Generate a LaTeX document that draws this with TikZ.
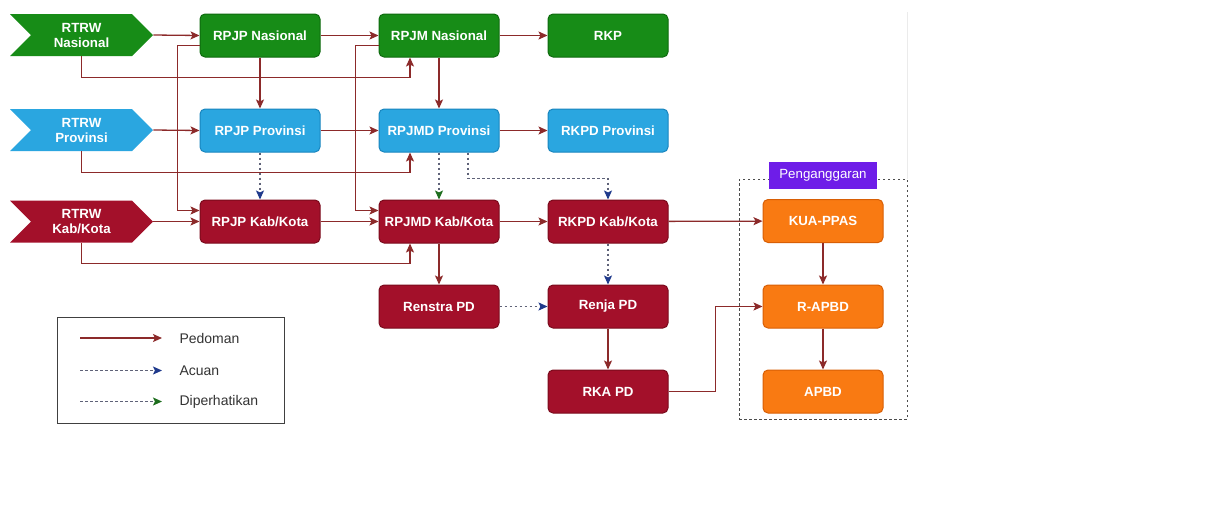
\documentclass[tikz,border=0pt]{standalone}
\usepackage{fontspec}
\setmainfont{Liberation Sans}
\usetikzlibrary{arrows.meta,shapes.symbols,calc}
\definecolor{cgreen}{HTML}{178C17}
\definecolor{cgreenD}{HTML}{0E6A0E}
\definecolor{cblue}{HTML}{2AA6E0}
\definecolor{cblueD}{HTML}{1885BE}
\definecolor{cred}{HTML}{A3102A}
\definecolor{credD}{HTML}{7A0A1C}
\definecolor{corange}{HTML}{F97A12}
\definecolor{corangeD}{HTML}{D85F05}
\definecolor{cviolet}{HTML}{6E1DE8}
\definecolor{cline}{HTML}{8C2A2A}
\definecolor{cdash}{HTML}{5E6278}
\definecolor{ctipblue}{HTML}{1F3A8C}
\definecolor{ctipgreen}{HTML}{1E6E1E}
\tikzset{
  box/.style={rectangle, rounded corners=5pt, minimum width=120pt, minimum height=43pt,
    inner sep=0pt, line width=1pt, text=white, font=\fontsize{13.3}{15}\selectfont\bfseries},
  gbox/.style={box, fill=cgreen, draw=cgreenD},
  bbox/.style={box, fill=cblue, draw=cblueD},
  rbox/.style={box, fill=cred, draw=credD},
  obox/.style={box, fill=corange, draw=corangeD},
  sig/.style={signal, signal to=east, signal from=west, signal pointer angle=90,
    minimum width=143pt, minimum height=42pt, inner sep=0pt, text=white, align=center,
    font=\fontsize{13.3}{15}\selectfont\bfseries},
  ped/.style={draw=cline, line width=1.3pt, -{Stealth[length=9pt,width=8pt,inset=2pt]}},
  acu/.style={draw=cdash, line width=1.1pt, dash pattern=on 2.5pt off 2.5pt,
    -{Stealth[length=9pt,width=8pt,inset=2pt,color=ctipblue]}},
  dip/.style={draw=cdash, line width=1.1pt, dash pattern=on 2.5pt off 2.5pt,
    -{Stealth[length=9pt,width=8pt,inset=2pt,color=ctipgreen]}},
  legtext/.style={anchor=west, font=\fontsize{14}{16}\selectfont, text=black!80},
}
\begin{document}
\begin{tikzpicture}[x=1pt,y=-1pt]
\useasboundingbox[fill=white] (0,0) rectangle (1208,523);
% faint edge
\draw[black!8, line width=0.8pt] (907,12) -- (907,179);

% group box
\node[draw=black!70, dash pattern=on 2.5pt off 2.5pt, line width=1pt, minimum width=168pt, minimum height=240pt, inner sep=0pt] (grp) at (823,299) {};
\node[fill=cviolet, minimum width=108pt, minimum height=27pt, inner sep=0pt, text=white, font=\fontsize{13.3}{15}\selectfont] (pang) at (823,175) {Penganggaran};

% row 1
\node[sig, fill=cgreen] (rtrwn) at (81.5,35) {RTRW\\Nasional};
\node[gbox] (rpjpn) at (260,35.5) {RPJP Nasional};
\node[gbox] (rpjmn) at (439,35.5) {RPJM Nasional};
\node[gbox] (rkp) at (608,35.5) {RKP};
% row 2
\node[sig, fill=cblue] (rtrwp) at (81.5,130) {RTRW\\Provinsi};
\node[bbox] (rpjpp) at (260,130.5) {RPJP Provinsi};
\node[bbox] (rpjmdp) at (439,130.5) {RPJMD Provinsi};
\node[bbox] (rkpdp) at (608,130.5) {RKPD Provinsi};
% row 3
\node[sig, fill=cred] (rtrwk) at (81.5,221.5) {RTRW\\Kab/Kota};
\node[rbox] (rpjpk) at (260,221.5) {RPJP Kab/Kota};
\node[rbox] (rpjmdk) at (439,221.5) {RPJMD Kab/Kota};
\node[rbox] (rkpdk) at (608,221.5) {RKPD Kab/Kota};
\node[obox] (kua) at (823,221) {KUA-PPAS};
% row 4
\node[rbox] (renstra) at (439,306.5) {Renstra PD};
\node[rbox] (renja) at (608,306.5) {Renja PD};
\node[obox] (rapbd) at (823,306.5) {R-APBD};
% row 5
\node[rbox] (rka) at (608,391.5) {RKA PD};
\node[obox] (apbd) at (823,391.5) {APBD};

% horizontal pedoman
\draw[ped] (rtrwn.east) -- (rpjpn.west);
\draw[ped] (rpjpn) -- (rpjmn);
\draw[ped] (rpjmn) -- (rkp);
\draw[ped] (rtrwp.east) -- (rpjpp.west);
\draw[ped] (rpjpp) -- (rpjmdp);
\draw[ped] (rpjmdp) -- (rkpdp);
\draw[ped] (rtrwk.east) -- (rpjpk.west);
\draw[ped] (rpjpk) -- (rpjmdk);
\draw[ped] (rpjmdk) -- (rkpdk);
\draw[ped] (rkpdk) -- (kua);
% vertical pedoman
\draw[ped] (rpjpn) -- (rpjpp);
\draw[ped] (rpjmn) -- (rpjmdp);
\draw[ped] (rpjmdk) -- (renstra);
\draw[ped] (renja) -- (rka);
\draw[ped] (kua) -- (rapbd);
\draw[ped] (rapbd) -- (apbd);
% elbow pedoman
\draw[ped] (rtrwn.south) -- ++(0,21) -| ($(rpjmn.south)+(-29,0)$);
\draw[ped] (rtrwp.south) -- ++(0,21) -| ($(rpjmdp.south)+(-29,0)$);
\draw[ped] (rtrwk.south) -- ++(0,21) -| ($(rpjmdk.south)+(-29,0)$);
\draw[ped] ($(rpjpn.west)+(0,10)$) -- ++(-22,0) |- ($(rpjpk.west)+(0,-11)$);
\draw[ped] ($(rpjmn.west)+(0,10)$) -- ++(-23,0) |- ($(rpjmdk.west)+(0,-11)$);
\draw[ped] (rka.east) -- ++(47,0) |- (rapbd.west);
% acuan / diperhatikan
\draw[acu] (rpjpp) -- (rpjpk);
\draw[dip] (rpjmdp) -- (rpjmdk);
\draw[acu] ($(rpjmdp.south)+(29,0)$) -- ++(0,26) -| (rkpdk.north);
\draw[acu] (rkpdk) -- (renja);
\draw[acu] (renstra) -- (renja);

% legend
\node[draw=black!75, line width=1pt, minimum width=227pt, minimum height=106pt, inner sep=0pt] (leg) at (170.5,370) {};
\coordinate (l1a) at (80,338); \coordinate (l1b) at (162,338);
\coordinate (l2a) at (80,370.5); \coordinate (l2b) at (162,370.5);
\coordinate (l3a) at (80,401.5); \coordinate (l3b) at (162,401.5);
\draw[ped] (l1a) -- (l1b);
\draw[acu] (l2a) -- (l2b);
\draw[dip] (l3a) -- (l3b);
\node[legtext] (t1) at (176,338) {Pedoman};
\node[legtext] (t2) at (176,370.5) {Acuan};
\node[legtext] (t3) at (176,401.5) {Diperhatikan};
\end{tikzpicture}
\end{document}
